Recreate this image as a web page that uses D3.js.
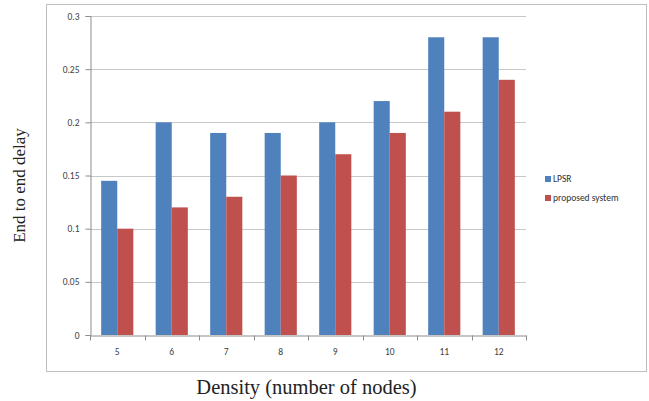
<!DOCTYPE html>
<html><head><meta charset="utf-8">
<script src="https://cdn.jsdelivr.net/npm/d3@7"></script>
<style>body{margin:0;background:#fff}svg{display:block}</style>
</head><body><svg id="c" width="649" height="401"></svg>
<script>
const categories = ["5","6","7","8","9","10","11","12"];
const seriesNames = ["LPSR","proposed system"];
const lpsr = [0.145,0.2,0.19,0.19,0.2,0.22,0.28,0.28];
const proposed = [0.1,0.12,0.13,0.15,0.17,0.19,0.21,0.24];
const yTicks = [0,0.05,0.1,0.15,0.2,0.25,0.3];
const yTickLabels = ["0","0.05","0.1","0.15","0.2","0.25","0.3"];
const colors = ["#4f81bd","#c0504d"];

const svg = d3.select("#c");
svg.append("rect").attr("x",46.5).attr("y",4.5).attr("width",600).attr("height",367)
  .attr("fill","#fff").attr("stroke","#bdbdbd").attr("stroke-width",1);

const L=90, R=526, T=16, B=335;
const x0 = d3.scaleBand().domain(categories).range([L,R]).padding(0);
const x1 = d3.scaleBand().domain(seriesNames).range([x0.bandwidth()*0.205, x0.bandwidth()*0.795]).padding(0);
const y = d3.scaleLinear().domain([0,0.3]).range([B,T]);

// gridlines
svg.append("g").selectAll("line").data(yTicks.slice(1)).join("line")
  .attr("x1",L).attr("x2",R).attr("y1",d=>Math.round(y(d))+0.5).attr("y2",d=>Math.round(y(d))+0.5)
  .attr("stroke","#c8c8c8").attr("stroke-width",1);

// bars
const data = categories.map((c,i)=>({c, vals:[lpsr[i],proposed[i]]}));
const g = svg.append("g").selectAll("g").data(data).join("g").attr("transform",d=>`translate(${x0(d.c)},0)`);
g.selectAll("rect").data(d=>d.vals.map((v,j)=>({v,s:seriesNames[j],j}))).join("rect")
  .attr("x",d=>x1(d.s)).attr("width",x1.bandwidth())
  .attr("y",d=>y(d.v)).attr("height",d=>B-y(d.v))
  .attr("fill",d=>colors[d.j]);

// y axis
const yAxis = d3.axisLeft(y).tickValues(yTicks).tickFormat((d,i)=>yTickLabels[i]).tickSize(5).tickPadding(6);
const ya = svg.append("g").attr("transform",`translate(${L+0.5},0)`).call(yAxis);
ya.select(".domain").attr("stroke","#8c8c8c");
ya.selectAll(".tick line").attr("stroke","#8c8c8c");
ya.selectAll("text").attr("font-family","Carlito, 'Liberation Sans', Arial, sans-serif").attr("font-size",9.5).attr("fill","#404040");

// x axis
const xAxis = d3.axisBottom(x0).tickSize(0).tickPadding(13);
const xa = svg.append("g").attr("transform",`translate(0,${B+0.5})`).call(xAxis);
xa.select(".domain").attr("stroke","#8c8c8c");
xa.selectAll("text").attr("font-family","Carlito, 'Liberation Sans', Arial, sans-serif").attr("font-size",9.5).attr("fill","#404040");
// category boundary ticks
const bounds = categories.map(c=>x0(c)).concat([R]);
xa.append("g").selectAll("line").data(bounds).join("line")
  .attr("x1",d=>Math.round(d)+0.5).attr("x2",d=>Math.round(d)+0.5).attr("y1",0).attr("y2",5).attr("stroke","#8c8c8c");

// legend
const lg = svg.append("g").selectAll("g").data(seriesNames).join("g")
  .attr("transform",(d,i)=>`translate(545,${176+i*19})`);
lg.append("rect").attr("width",6).attr("height",6).attr("fill",(d,i)=>colors[i]);
lg.append("text").attr("x",8).attr("y",6).text(d=>d)
  .attr("font-family","Carlito, 'Liberation Sans', Arial, sans-serif").attr("font-size",9.5).attr("fill","#303030");

// axis titles
svg.append("text").attr("x",306.5).attr("y",394).attr("text-anchor","middle")
  .attr("font-family","'Liberation Serif','Times New Roman',serif").attr("font-size",20.5).attr("fill","#222")
  .text("Density (number of nodes)");
svg.append("text").attr("transform","translate(25,185.5) rotate(-90)").attr("text-anchor","middle")
  .attr("font-family","'Liberation Serif','Times New Roman',serif").attr("font-size",17).attr("fill","#222")
  .text("End to end delay");
</script></body></html>
